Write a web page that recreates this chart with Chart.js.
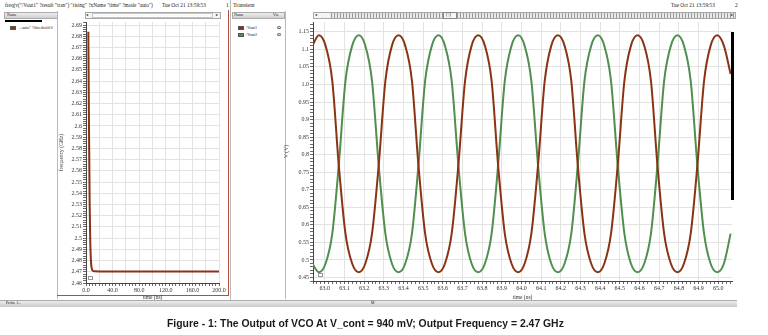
<!DOCTYPE html>
<html>
<head>
<meta charset="utf-8">
<script src="https://cdn.jsdelivr.net/npm/chart.js@4.4.1/dist/chart.umd.min.js"></script>
<style>
  html, body { margin: 0; padding: 0; }
  body {
    width: 768px; height: 335px; background: #fff; position: relative; overflow: hidden;
    font-family: "Liberation Serif", serif; color: #222;
  }
  .abs  { position: absolute; }
  .txt  { position: absolute; white-space: nowrap; line-height: 1; }
  .head { position: absolute; background: linear-gradient(#eee, #cfcfcf); border: 1px solid #aaa; box-sizing: border-box; }
  .sw   { position: absolute; width: 6px; height: 4px; border: 1px solid #555; box-sizing: border-box; }
  .eye  { position: absolute; width: 4px; height: 3px; border: 1px solid #666; border-radius: 50%; box-sizing: border-box; }
  .vline { position: absolute; width: 1px; background: #b9b9b9; }
  canvas { position: absolute; }
  #caption {
    position: absolute; left: 167px; top: 318px; white-space: nowrap;
    font-family: "Liberation Sans", Arial, sans-serif; font-weight: bold; font-size: 10.4px; color: #1a1a1a;
  }
</style>
</head>
<body>

<!-- ── Window 1: frequency ─────────────────────────── -->
<div class="txt" style="left:5px;top:3px;font-size:5.3px;">freq(v("/Vout1" ?result "tran") "rising" ?xName "time" ?mode "auto")</div>
<div class="txt" style="left:162px;top:3px;font-size:5.3px;">Tue Oct 21 13:59:53</div>
<div class="txt" style="left:226px;top:3px;font-size:5.5px;">1</div>

<div class="head" style="left:4px;top:12px;width:54px;height:7px;"></div>
<div class="txt" style="left:7px;top:13px;font-size:4px;">Name</div>
<div class="abs" style="left:5px;top:20px;width:37px;height:2px;background:#000;"></div>
<div class="sw" style="left:10px;top:26px;background:#8a3315;"></div>
<div class="txt" style="left:19px;top:26px;font-size:4.2px;">...auto" ?threshold 0</div>
<div class="vline" style="left:57px;top:11px;height:288px;"></div>

<div class="abs" style="left:85px;top:12px;width:136px;height:7px;border:1px solid #a8a8a8;box-sizing:border-box;background:#f4f4f4;"></div>
<div class="abs" style="left:92px;top:13px;width:121px;height:5px;border:1px solid #c4c4c4;box-sizing:border-box;background:#fbfbfb;"></div>
<div class="txt" style="left:86px;top:13px;font-size:4px;">◂</div>
<div class="txt" style="left:216px;top:13px;font-size:4px;">▸</div>

<div class="abs" style="left:228px;top:10px;width:1px;height:286px;background:#b0503a;"></div>
<div class="abs" style="left:57px;top:295px;width:172px;height:1px;background:#b0503a;"></div>
<div class="abs" style="left:88px;top:276px;width:5px;height:4px;border:1px solid #999;box-sizing:border-box;"></div>

<canvas id="freq-chart" width="175" height="288" style="left:55px;top:15px;"></canvas>

<div class="vline" style="left:230px;top:0px;height:300px;"></div>

<!-- ── Window 2: transient ─────────────────────────── -->
<div class="txt" style="left:233px;top:3px;font-size:5.8px;">Transient</div>
<div class="txt" style="left:671px;top:3px;font-size:5.3px;">Tue Oct 21 13:59:53</div>
<div class="txt" style="left:735px;top:3px;font-size:5.5px;">2</div>

<div class="head" style="left:232px;top:12px;width:53px;height:7px;"></div>
<div class="txt" style="left:234px;top:13px;font-size:4px;">Name</div>
<div class="txt" style="left:273px;top:13px;font-size:4px;">Vis</div>
<div class="sw" style="left:238px;top:26px;background:#8a3315;"></div>
<div class="txt" style="left:246px;top:26px;font-size:4.2px;">/Vout1</div>
<div class="eye" style="left:277px;top:26px;"></div>
<div class="sw" style="left:238px;top:33px;background:#4f8f4f;"></div>
<div class="txt" style="left:246px;top:33px;font-size:4.2px;">/Vout2</div>
<div class="eye" style="left:277px;top:33px;"></div>
<div class="vline" style="left:285px;top:11px;height:288px;"></div>

<div class="abs" style="left:313px;top:12px;width:423px;height:7px;border:1px solid #a8a8a8;box-sizing:border-box;
     background:repeating-linear-gradient(90deg,#e9e9e9 0,#e9e9e9 2px,#9a9a9a 2px,#9a9a9a 3px);"></div>
<div class="abs" style="left:314px;top:13px;width:16px;height:5px;background:#f4f4f4;"></div>
<div class="abs" style="left:443px;top:12px;width:14px;height:7px;border:1px solid #888;box-sizing:border-box;background:#f6f6f6;"></div>
<div class="txt" style="left:446px;top:13px;font-size:4.5px;">[ |]</div>
<div class="txt" style="left:315px;top:13px;font-size:4px;">◂</div>
<div class="txt" style="left:731px;top:13px;font-size:4px;">▸</div>

<div class="abs" style="left:318px;top:273px;width:5px;height:4px;border:1px solid #999;box-sizing:border-box;"></div>

<canvas id="tran-chart" width="460" height="286" style="left:283px;top:15px;"></canvas>

<div class="abs" style="left:731px;top:32px;width:3px;height:168px;background:#000;"></div>

<!-- ── Status bar + caption ────────────────────────── -->
<div class="abs" style="left:0px;top:300px;width:737px;height:6px;background:linear-gradient(#ededed,#c9c9c9);border-top:1px solid #aaa;"></div>
<div class="txt" style="left:6px;top:301px;font-size:4px;">Probe 1...</div>
<div class="txt" style="left:371px;top:301px;font-size:4px;">M</div>

<div id="caption">Figure - 1: The Output of VCO At V_cont = 940 mV; Output Frequency = 2.47 GHz</div>

<script>
'use strict';

// ── Data ────────────────────────────────────────────────
// Window 1: frequency of /Vout1 (GHz) against time (ns)
const freqTime = [3.5, 4.5, 5.5, 6.5, 7.5, 8.5, 10, 13, 20, 40, 60, 80, 100, 120, 140, 160, 180, 200];
const freqGHz  = [2.684, 2.60, 2.53, 2.495, 2.479, 2.4735, 2.471, 2.4704, 2.4703, 2.4703, 2.4702,
                  2.4703, 2.4702, 2.4703, 2.4702, 2.4703, 2.4702, 2.4703];

// Window 2: transient outputs (V) against time (ns)
const tranTime = [
  62.936, 62.970, 63.004, 63.038, 63.071, 63.105, 63.139, 63.173, 63.206, 63.240, 63.274, 63.308,
  63.341, 63.375, 63.409, 63.443, 63.476, 63.510, 63.544, 63.578, 63.611, 63.645, 63.679, 63.713,
  63.746, 63.780, 63.814, 63.848, 63.881, 63.915, 63.949, 63.983, 64.016, 64.050, 64.084, 64.118,
  64.151, 64.185, 64.219, 64.253, 64.286, 64.320, 64.354, 64.388, 64.421, 64.455, 64.489, 64.523,
  64.556, 64.590, 64.624, 64.658, 64.691, 64.725, 64.759, 64.793, 64.826, 64.860, 64.894, 64.928,
  64.961, 64.995, 65.029, 65.063
];
const vout1 = [
  1.11,
  1.14, 1.11, 1.01, 0.77, 0.575, 0.49, 0.465, 0.49, 0.575, 0.77, 1.01, 1.11,
  1.14, 1.11, 1.01, 0.77, 0.575, 0.49, 0.465, 0.49, 0.575, 0.77, 1.01, 1.11,
  1.14, 1.11, 1.01, 0.77, 0.575, 0.49, 0.465, 0.49, 0.575, 0.77, 1.01, 1.11,
  1.14, 1.11, 1.01, 0.77, 0.575, 0.49, 0.465, 0.49, 0.575, 0.77, 1.01, 1.11,
  1.14, 1.11, 1.01, 0.77, 0.575, 0.49, 0.465, 0.49, 0.575, 0.77, 1.01, 1.11,
  1.14, 1.11, 1.03
];
const vout2 = [
  0.49,
  0.465, 0.49, 0.575, 0.77, 1.01, 1.11, 1.14, 1.11, 1.01, 0.77, 0.575, 0.49,
  0.465, 0.49, 0.575, 0.77, 1.01, 1.11, 1.14, 1.11, 1.01, 0.77, 0.575, 0.49,
  0.465, 0.49, 0.575, 0.77, 1.01, 1.11, 1.14, 1.11, 1.01, 0.77, 0.575, 0.49,
  0.465, 0.49, 0.575, 0.77, 1.01, 1.11, 1.14, 1.11, 1.01, 0.77, 0.575, 0.49,
  0.465, 0.49, 0.575, 0.77, 1.01, 1.11, 1.14, 1.11, 1.01, 0.77, 0.575, 0.49,
  0.465, 0.49, 0.575
];

const BROWN = '#8a3315';
const GREEN = '#4f8f4f';
const GRID  = '#e3e3e3';
const AXIS  = '#444';

// ── Helpers ─────────────────────────────────────────────
function isMult(v, step) { return Math.abs(v / step - Math.round(v / step)) < 1e-6; }

function fmtTrim(v) {
  let s = String(parseFloat(v.toFixed(3)));
  if (!s.includes('.')) s += '.0';
  return s;
}

// one axis carries minor ticks, grid on every "gridStep", labels on every "labelStep"
function makeAxis(o) {
  const horiz = o.position === 'bottom';
  return {
    type: 'linear', position: o.position,
    min: o.min, max: o.max,
    afterFit: s => { if (horiz) s.height = o.size; else s.width = o.size; },
    ticks: {
      stepSize: o.minor, includeBounds: false, autoSkip: false, maxTicksLimit: 1000,
      maxRotation: 0, padding: 1, color: '#333',
      font: { family: 'Liberation Serif', size: 6 },
      callback: v => isMult(v, o.labelStep) ? o.fmt(v) : '',
    },
    grid: {
      drawTicks: true, tickLength: 3, lineWidth: 1, tickWidth: 0.8, tickColor: AXIS,
      color: ctx => (ctx.tick && isMult(ctx.tick.value, o.gridStep)) ? GRID : 'rgba(0,0,0,0)',
    },
    border: { display: true, color: AXIS, width: 1 },
    title: {
      display: true, text: o.title, color: '#333',
      font: { family: 'Liberation Serif', size: 5.5 },
      padding: horiz ? { top: 0, bottom: o.titlePad } : { top: o.titlePad, bottom: 0 },
    },
  };
}

const common = {
  responsive: false, animation: false, events: [],
  layout: { padding: { top: 7, right: 11, left: 0, bottom: 0 } },
  plugins: { legend: { display: false }, tooltip: { enabled: false } },
};

// ── Window 1 chart ──────────────────────────────────────
new Chart(document.getElementById('freq-chart'), {
  type: 'line',
  data: {
    datasets: [{
      data: freqTime.map((t, i) => ({ x: t, y: freqGHz[i] })),
      borderColor: BROWN, borderWidth: 2, pointRadius: 0,
      cubicInterpolationMode: 'monotone',
    }],
  },
  options: {
    ...common,
    scales: {
      x: makeAxis({ position: 'bottom', min: 0, max: 200, minor: 5, gridStep: 20, labelStep: 40,
                    fmt: v => v.toFixed(1), title: 'time (ns)', size: 20, titlePad: 2 }),
      y: makeAxis({ position: 'left', min: 2.46, max: 2.6927, minor: 0.002, gridStep: 0.01, labelStep: 0.01,
                    fmt: fmtTrim, title: 'frequency (GHz)', size: 31, titlePad: 3 }),
    },
  },
});

// ── Window 2 chart ──────────────────────────────────────
new Chart(document.getElementById('tran-chart'), {
  type: 'line',
  data: {
    datasets: [
      {
        label: '/Vout1',
        data: tranTime.map((t, i) => ({ x: t, y: vout1[i] })),
        borderColor: BROWN, borderWidth: 2, pointRadius: 0,
        cubicInterpolationMode: 'monotone',
      },
      {
        label: '/Vout2',
        data: tranTime.map((t, i) => ({ x: t, y: vout2[i] })),
        borderColor: GREEN, borderWidth: 2, pointRadius: 0,
        cubicInterpolationMode: 'monotone',
      },
    ],
  },
  options: {
    ...common,
    scales: {
      x: makeAxis({ position: 'bottom', min: 62.94, max: 65.07, minor: 0.02, gridStep: 0.1, labelStep: 0.1,
                    fmt: v => v.toFixed(1), title: 'time (ns)', size: 20, titlePad: 0.5 }),
      y: makeAxis({ position: 'left', min: 0.44, max: 1.178, minor: 0.01, gridStep: 0.05, labelStep: 0.05,
                    fmt: fmtTrim, title: 'V (V)', size: 30, titlePad: 0.5 }),
    },
  },
});
</script>
</body>
</html>
